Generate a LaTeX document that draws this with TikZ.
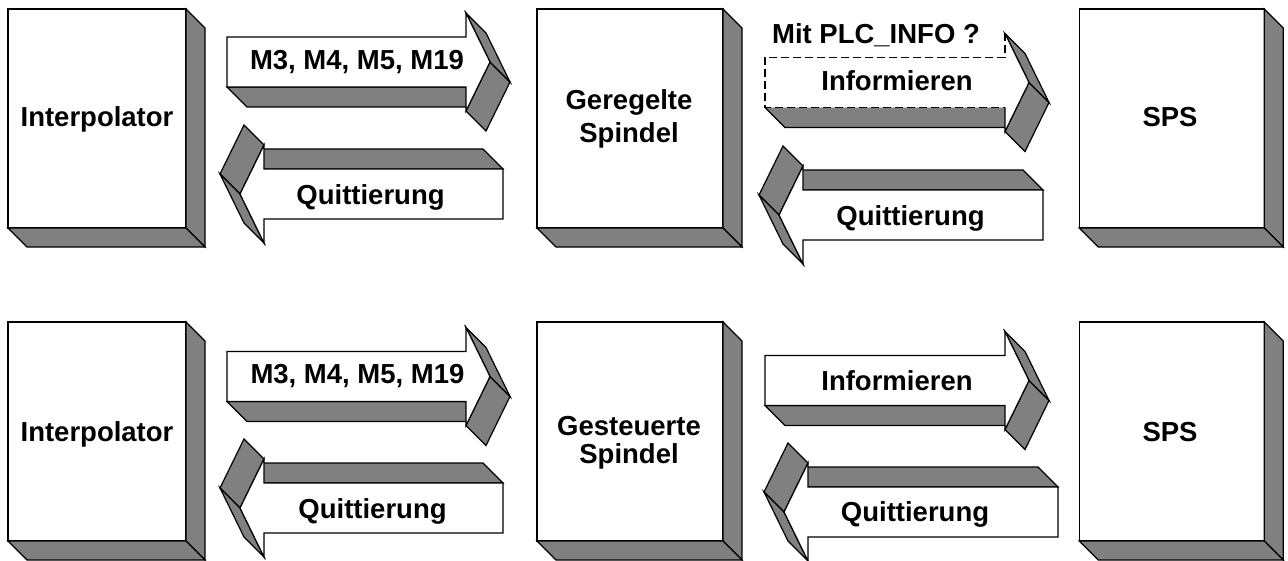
\documentclass[tikz,border=0pt]{standalone}
\usepackage{fontspec}
\setmainfont{Liberation Sans}
\definecolor{facegray}{RGB}{128,128,128}
\tikzset{
  face/.style={fill=facegray, draw=black, line width=0.6pt, line join=miter},
  front/.style={fill=white, draw=black, line width=0.6pt, line join=miter},
  lbl/.style={font=\fontsize{13.75}{16}\selectfont\bfseries, anchor=base, inner sep=0pt},
  box/.style={draw=black, fill=white, line width=0.6pt, inner sep=0pt, outer sep=0pt,
    minimum width=89pt, minimum height=109.5pt},
  dashline/.style={dash pattern=on 4pt off 2pt}
}
% right-pointing 3D arrow, body length #1, origin at left end / centre line
\newcommand{\shapearrow}[1]{%
  \draw[face] (0,25) -- (#1,25) -- (#1+20,45) -- (20,45) -- cycle;
  \draw[face] (#1+24,0) -- (#1,49) -- (#1+20,69) -- (#1+44,20) -- cycle;
  \draw[face] (#1,-49) -- (#1+24,0) -- (#1+44,20) -- (#1+20,-29) -- cycle;
  \draw[front] (0,-25) -- (#1,-25) -- (#1,-49) -- (#1+24,0) -- (#1,49) -- (#1,25) -- (0,25) -- cycle;
}
\newcommand{\shapearrowdashed}[1]{%
  \fill[facegray] (0,25) -- (#1,25) -- (#1+20,45) -- (20,45) -- cycle;
  \draw[line width=0.6pt] (0,25) -- (20,45) -- (#1+20,45);
  \draw[face] (#1+24,0) -- (#1,49) -- (#1+20,69) -- (#1+44,20) -- cycle;
  \draw[face] (#1,-49) -- (#1+24,0) -- (#1+44,20) -- (#1+20,-29) -- cycle;
  \fill[white] (0,-25) -- (#1,-25) -- (#1,-49) -- (#1+24,0) -- (#1,49) -- (#1,25) -- (0,25) -- cycle;
  \draw[line width=0.6pt, dashline] (#1,-49) -- (#1,-25) -- (0,-25) -- (0,25) -- (#1,25);
  \draw[line width=0.6pt] (#1,-49) -- (#1+24,0) -- (#1,49) -- (#1,25);
}
\begin{document}
\begin{tikzpicture}[x=0.5pt, y=-0.5pt]
\useasboundingbox (0,0) rectangle (1288,561);

% boxes
\node[box] (b1) at (97,118.5) {};
\node[box, minimum width=93pt] (b2) at (630,118.5) {};
\node[box, minimum width=92.5pt] (b3) at (1171.7,118.5) {};
\node[box] (b4) at (97,431.5) {};
\node[box, minimum width=93pt] (b5) at (630,431.5) {};
\node[box, minimum width=92.5pt] (b6) at (1171.7,431.5) {};
\foreach \b in {b1,b2,b3,b4,b5,b6}{
  \draw[face] (\b.north east) -- ([shift={(19,19)}]\b.north east) -- ([shift={(19,19)}]\b.south east) -- (\b.south east) -- cycle;
  \draw[face] (\b.south west) -- ([shift={(19,19)}]\b.south west) -- ([shift={(19,19)}]\b.south east) -- (\b.south east) -- cycle;
}

% top row arrows
\begin{scope}[shift={(227,62)}] \shapearrow{239} \end{scope}
\begin{scope}[shift={(503,194)}, rotate=180] \shapearrow{239} \end{scope}
\begin{scope}[shift={(765,82.5)}] \shapearrowdashed{240} \end{scope}
\begin{scope}[shift={(1043,215)}, rotate=180] \shapearrow{240} \end{scope}

% bottom row arrows
\begin{scope}[shift={(227,376.5)}] \shapearrow{239} \end{scope}
\begin{scope}[shift={(503,508)}, rotate=180] \shapearrow{239} \end{scope}
\begin{scope}[shift={(765,380.5)}] \shapearrow{240} \end{scope}
\begin{scope}[shift={(1058,512)}, rotate=180] \shapearrow{250} \end{scope}

% labels
\node[lbl] (l1) at (97,126.7) {Interpolator};
\node[lbl] (l2a) at (629,110) {Geregelte};
\node[lbl] (l2b) at (629,143) {Spindel};
\node[lbl] (l3) at (1170,126.7) {SPS};
\node[lbl] (l4) at (97,441.7) {Interpolator};
\node[lbl] (l5a) at (629,435) {Gesteuerte};
\node[lbl] (l5b) at (629,463) {Spindel};
\node[lbl] (l6) at (1170,441.7) {SPS};

\node[lbl] (a1) at (357,70) {M3, M4, M5, M19};
\node[lbl] (a2) at (370.5,205) {Quittierung};
\node[lbl] (a3) at (876,43.3) {Mit PLC\_INFO ?};
\node[lbl] (a4) at (897,91) {Informieren};
\node[lbl] (a5) at (910.5,225) {Quittierung};
\node[lbl] (a6) at (357.5,383.3) {M3, M4, M5, M19};
\node[lbl] (a7) at (372.5,518) {Quittierung};
\node[lbl] (a8) at (897,390) {Informieren};
\node[lbl] (a9) at (915,521.7) {Quittierung};
\end{tikzpicture}
\end{document}
